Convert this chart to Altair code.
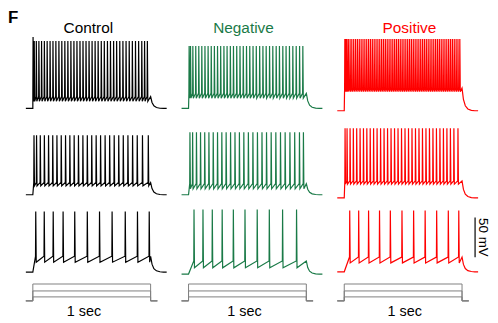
import altair as alt
import pandas as pd

groups = ["Control", "Negative", "Positive"]
colors = ["#000000", "#1a7a47", "#ff0000"]
title_t = [0.477, 0.472, 0.56]   # centre of each column title (s on the trace time axis)

# spike times (s), rows = weak -> strong
ctrl_r1 = [0.000, 0.010, 0.028, 0.050, 0.073, 0.097, 0.121, 0.146, 0.171, 0.196, 0.222, 0.247, 0.273, 0.299,
           0.325, 0.351, 0.377, 0.403, 0.429, 0.455, 0.481, 0.507, 0.533, 0.559, 0.586, 0.612, 0.639, 0.665,
           0.692, 0.718, 0.745, 0.772, 0.799, 0.826, 0.853, 0.880, 0.907, 0.934, 0.958, 0.982]
neg_r1 = [0.003, 0.015, 0.035, 0.060, 0.086, 0.112, 0.139, 0.166, 0.193, 0.220, 0.247, 0.274, 0.302, 0.329,
          0.357, 0.384, 0.412, 0.440, 0.468, 0.496, 0.524, 0.552, 0.580, 0.609, 0.637, 0.665, 0.694, 0.722,
          0.751, 0.779, 0.808, 0.836, 0.865, 0.894, 0.923, 0.952, 0.980]
pos_r1 = [0.003, 0.010, 0.020, 0.033, 0.048, 0.063, 0.079, 0.095, 0.111, 0.127, 0.143, 0.159, 0.175, 0.191,
          0.207, 0.223, 0.239, 0.255, 0.271, 0.287, 0.303, 0.319, 0.335, 0.351, 0.367, 0.383, 0.399, 0.415,
          0.431, 0.447, 0.463, 0.479, 0.495, 0.511, 0.527, 0.543, 0.559, 0.575, 0.591, 0.607, 0.623, 0.639,
          0.655, 0.671, 0.687, 0.703, 0.719, 0.735, 0.751, 0.767, 0.783, 0.799, 0.815, 0.831, 0.847, 0.863,
          0.879, 0.895, 0.911, 0.927, 0.943, 0.959, 0.975, 0.991]
ctrl_r2 = [0.008, 0.030, 0.062, 0.097, 0.133, 0.169, 0.205, 0.242, 0.279, 0.316, 0.353, 0.390, 0.428, 0.466,
           0.504, 0.542, 0.580, 0.619, 0.658, 0.697, 0.736, 0.775, 0.815, 0.855, 0.895, 0.940, 0.990]
neg_r2 = [0.010, 0.033, 0.066, 0.101, 0.137, 0.173, 0.210, 0.247, 0.284, 0.321, 0.359, 0.397, 0.435, 0.473,
          0.512, 0.551, 0.590, 0.629, 0.668, 0.708, 0.748, 0.788, 0.828, 0.869, 0.910, 0.951, 0.985]
pos_r2 = [0.005, 0.022, 0.048, 0.076, 0.105, 0.134, 0.163, 0.192, 0.221, 0.250, 0.280, 0.310, 0.340, 0.370,
          0.400, 0.430, 0.460, 0.490, 0.520, 0.550, 0.580, 0.610, 0.640, 0.670, 0.700, 0.730, 0.760, 0.790,
          0.820, 0.850, 0.880, 0.910, 0.940, 0.975]
ctrl_r3 = [0.023, 0.096, 0.173, 0.258, 0.358, 0.466, 0.571, 0.679, 0.792, 0.897, 0.998]
neg_r3 = [0.045, 0.122, 0.202, 0.287, 0.383, 0.483, 0.588, 0.692, 0.806, 0.926]
pos_r3 = [0.045, 0.122, 0.207, 0.301, 0.394, 0.494, 0.594, 0.693, 0.792, 0.892, 0.982]

spike_times = [[ctrl_r1, neg_r1, pos_r1], [ctrl_r2, neg_r2, pos_r2], [ctrl_r3, neg_r3, pos_r3]]

# membrane levels (mV) per [row][column]
rest_mv = [[-70, -70, -72.9], [-70, -70, -74], [-70, -72.5, -69.6]]
ahp_mv = [[-61, -57, -48.8], [-58.8, -62.5, -56.6], [-57.5, -64.6, -58.4]]
thr_mv = [[-55, -51, -44.4], [-54.6, -56, -52.5], [-50, -56, -51]]
peak_mv = [[15, 8.8, 17.5], [5, 8.8, 13.8], [6.3, 8.8, 7.5]]
first_peak_mv = [[20, 8.8, 17.5], [5, 8.8, 13.8], [6.3, 8.8, 7.5]]

step_off = 1.012
tail_dt = [0.012, 0.028, 0.05, 0.08, 0.11, 0.138]
tail_frac = [0.5, 0.22, 0.08, 0.02, 0.0, 0.0]

# current steps (pA)
stim_levels = [40, 100, 170]
stim_t = [-0.06, 0.0, 0.0, 1.012, 1.012, 1.07]
duration_label = "1 sec"
label_t = [0.44, 0.48, 0.52]

scale_bar_mv = 50

x_dom = [-0.06, 1.15]
row_domains = [[-77.5, 21.25], [-75, 31.25], [-75, 22.5]]
row_heights = [79, 85, 78]
header_h = 26
panel_w = 142
stim_dom = [-20, 250]
stim_h = 27
font = "Liberation Sans"


def build_trace(r, c):
    rest, ahp, thr = rest_mv[r][c], ahp_mv[r][c], thr_mv[r][c]
    pts = [(-0.06, rest), (0.0, rest)]
    for k, s in enumerate(spike_times[r][c]):
        p = first_peak_mv[r][c] if k == 0 else peak_mv[r][c]
        pts += [(s, thr), (s + 0.002, p), (s + 0.006, ahp)]
    pts.append((step_off, thr))
    for dt, fr in zip(tail_dt, tail_frac):
        pts.append((step_off + dt, rest + fr * (thr - rest)))
    return pd.DataFrame({"t": [p[0] for p in pts], "v": [p[1] for p in pts], "i": list(range(len(pts)))})


def xenc():
    return alt.X("t:Q", scale=alt.Scale(domain=x_dom, nice=False, zero=False), axis=None)


panels = []
# header row: column titles (+ panel letter)
for c in range(3):
    hdf = pd.DataFrame({"t": [title_t[c]], "label": [groups[c]]})
    layers = [alt.Chart(hdf).mark_text(font=font, fontSize=15.5, align="center", baseline="alphabetic",
                                       color=colors[c]).encode(x=xenc(), y=alt.value(23), text="label:N")]
    if c == 0:
        layers.append(alt.Chart(pd.DataFrame({"label": ["F"]})).mark_text(
            font=font, fontSize=17, fontWeight="bold", align="left", baseline="top", color="#000"
        ).encode(x=alt.value(-18), y=alt.value(0), text="label:N"))
    panels.append(alt.layer(*layers).properties(width=panel_w, height=header_h))

for r in range(3):
    for c in range(3):
        ysc = alt.Scale(domain=row_domains[r], nice=False, zero=False)
        line = alt.Chart(build_trace(r, c)).mark_line(color=colors[c], strokeWidth=1.2).encode(
            x=xenc(), y=alt.Y("v:Q", scale=ysc, axis=None), order="i:Q")
        layers = [line]
        if r == 2 and c == 2:
            bar = pd.DataFrame({"t": [1.124], "v1": [-26.25 - scale_bar_mv / 2], "v2": [-26.25 + scale_bar_mv / 2]})
            layers.append(alt.Chart(bar).mark_rule(color="#000", strokeWidth=1.2).encode(
                x=xenc(), y=alt.Y("v1:Q", scale=ysc, axis=None), y2="v2:Q"))
            lab = pd.DataFrame({"t": [1.192], "v": [-26.25], "label": [f"{scale_bar_mv} mV"]})
            layers.append(alt.Chart(lab).mark_text(
                font=font, fontSize=13.5, angle=90, align="center", baseline="middle", color="#000"
            ).encode(x=xenc(), y=alt.Y("v:Q", scale=ysc, axis=None), text="label:N"))
        panels.append(alt.layer(*layers).properties(width=panel_w, height=row_heights[r]))

for c in range(3):
    recs = []
    for lv in stim_levels:
        vals = [0, 0, lv, lv, 0, 0]
        for k, (tt, vv) in enumerate(zip(stim_t, vals)):
            recs.append({"t": tt, "a": vv, "lvl": lv, "i": k})
    sdf = pd.DataFrame(recs)
    ysc = alt.Scale(domain=stim_dom, nice=False, zero=False)
    sline = alt.Chart(sdf).mark_line(color="#808080", strokeWidth=1).encode(
        x=xenc(), y=alt.Y("a:Q", scale=ysc, axis=None), detail="lvl:N", order="i:Q")
    tdf = pd.DataFrame({"t": [label_t[c]], "a": [-150], "label": [duration_label]})
    stext = alt.Chart(tdf).mark_text(font=font, fontSize=14.5, baseline="alphabetic", align="center",
                                      color="#000").encode(
        x=xenc(), y=alt.Y("a:Q", scale=ysc, axis=None), text="label:N")
    panels.append(alt.layer(sline, stext).properties(width=panel_w, height=stim_h))

chart = alt.concat(*panels, columns=3, spacing={"row": 0, "column": 15}, bounds="flush",
                   align="each").properties(padding=0).configure_view(stroke=None)
chart.save("out.html", embed_options={"renderer": "svg", "actions": False})
